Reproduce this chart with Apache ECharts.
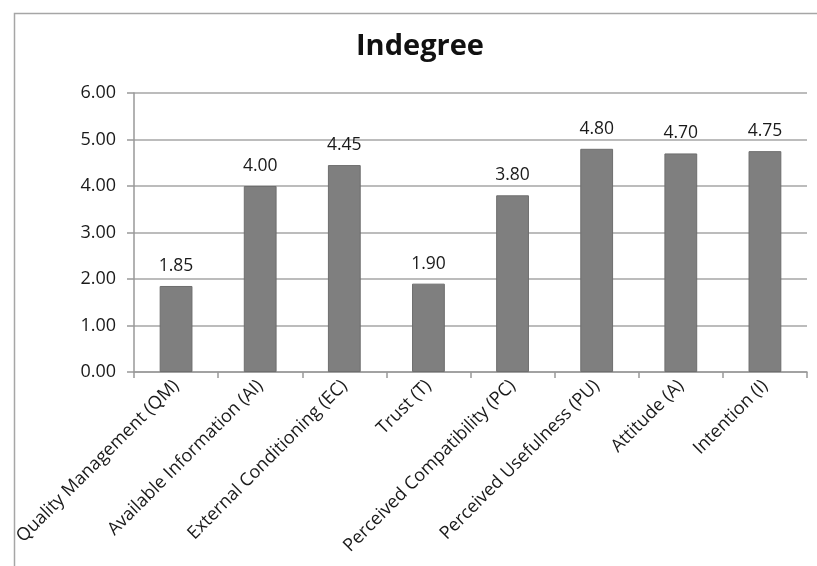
<!DOCTYPE html>
<html>
<head>
<meta charset="utf-8">
<script src="https://cdn.jsdelivr.net/npm/echarts@6/dist/echarts.min.js"></script>
<style>html,body{margin:0;padding:0;background:#fff;}#c{width:817px;height:566px;}</style>
</head>
<body>
<div id="c"></div>
<script>
const categories = ['Quality Management (QM)', 'Available Information (AI)', 'External Conditioning (EC)', 'Trust (T)', 'Perceived Compatibility (PC)', 'Perceived Usefulness (PU)', 'Attitude (A)', 'Intention (I)'];
const values = [1.85, 4.00, 4.45, 1.90, 3.80, 4.80, 4.70, 4.75];
const yTicks = [0, 1, 2, 3, 4, 5, 6];
const titleText = 'Indegree';

const chart = echarts.init(document.getElementById('c'));
const font = '"Open Sans", sans-serif';
chart.setOption({
  animation: false,
  backgroundColor: '#fff',
  graphic: [{
    type: 'rect', left: 12, top: 11, silent: true,
    shape: { width: 900, height: 700 },
    style: { fill: 'none', stroke: '#a6a6a6', lineWidth: 1.5 }
  }],
  title: {
    text: titleText, left: 351, top: 27,
    textStyle: { fontFamily: font, fontWeight: 'bold', fontSize: 29, color: '#111' }
  },
  grid: { left: 134, right: 10, top: 93, bottom: 194, containLabel: false },
  xAxis: {
    type: 'category', data: categories,
    axisLine: { lineStyle: { color: '#999', width: 1.5 } },
    axisTick: { show: true, length: 6, alignWithLabel: false, lineStyle: { color: '#999', width: 1.5 } },
    axisLabel: { rotate: 45, interval: 0, margin: 11, fontFamily: font, fontSize: 18, color: '#1a1a1a' }
  },
  yAxis: {
    type: 'value', min: yTicks[0], max: yTicks[yTicks.length - 1], interval: 1,
    axisLine: { show: true, lineStyle: { color: '#999', width: 1.5 } },
    axisTick: { show: true, length: 7, lineStyle: { color: '#999', width: 1.5 } },
    splitLine: { lineStyle: { color: '#a6a6a6', width: 1.5 } },
    axisLabel: { margin: 18, fontFamily: font, fontSize: 18, color: '#1a1a1a', formatter: v => v.toFixed(2) }
  },
  series: [{
    type: 'bar', data: values, barCategoryGap: '61%',
    itemStyle: { color: '#7f7f7f', borderColor: '#6e6e6e', borderWidth: 1 },
    label: { show: true, position: 'top', distance: 11, fontFamily: font, fontSize: 17.5, color: '#1a1a1a', formatter: p => p.value.toFixed(2) }
  }]
});
</script>
</body>
</html>
